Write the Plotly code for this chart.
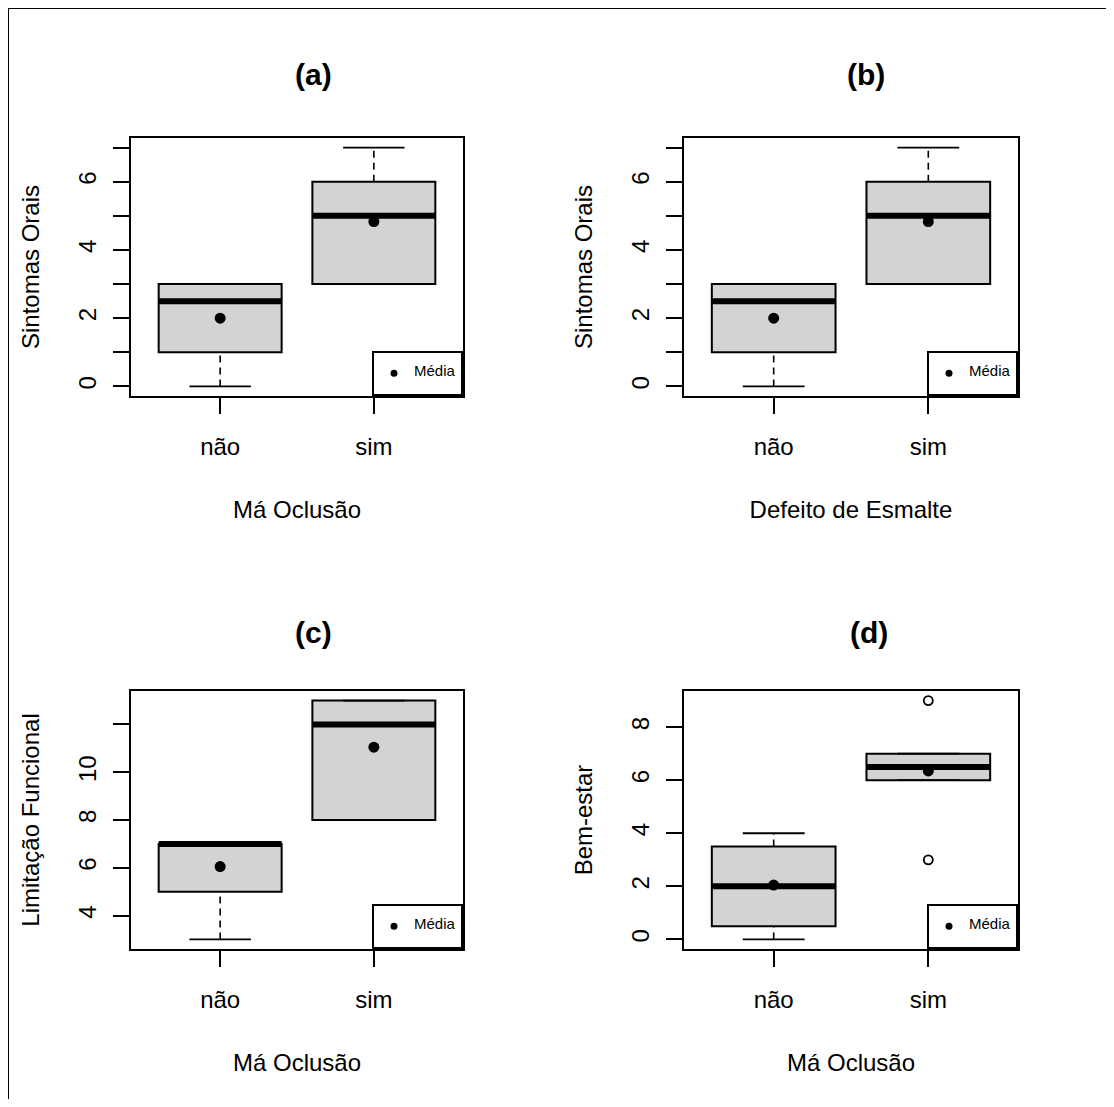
import plotly.graph_objects as go

# ---------------- data ----------------
categories = ["não", "sim"]

# panel (a): Sintomas Orais x Má Oclusão
a_q1 = [1, 3]
a_median = [2.5, 5]
a_q3 = [3, 6]
a_lower = [0, 3]
a_upper = [3, 7]
a_mean = [2.0, 4.83]
a_out = [[], []]

# panel (b): Sintomas Orais x Defeito de Esmalte
b_q1 = [1, 3]
b_median = [2.5, 5]
b_q3 = [3, 6]
b_lower = [0, 3]
b_upper = [3, 7]
b_mean = [2.0, 4.83]
b_out = [[], []]

# panel (c): Limitação Funcional x Má Oclusão
c_q1 = [5, 8]
c_median = [7, 12]
c_q3 = [7, 13]
c_lower = [3, 8]
c_upper = [7, 13]
c_mean = [6.05, 11.05]
c_out = [[], []]

# panel (d): Bem-estar x Má Oclusão
d_q1 = [0.5, 6]
d_median = [2, 6.5]
d_q3 = [3.5, 7]
d_lower = [0, 6]
d_upper = [4, 7]
d_mean = [2.05, 6.35]
d_out = [[], [9, 3]]

titles = ["(a)", "(b)", "(c)", "(d)"]
x_titles = ["Má Oclusão", "Defeito de Esmalte", "Má Oclusão", "Má Oclusão"]
y_titles = ["Sintomas Orais", "Sintomas Orais", "Limitação Funcional", "Bem-estar"]
y_tickvals = [list(range(0, 8)), list(range(0, 8)), [4, 6, 8, 10, 12], [0, 2, 4, 6, 8]]
y_ticktext = [["0", "", "2", "", "4", "", "6", ""],
              ["0", "", "2", "", "4", "", "6", ""],
              ["4", "6", "8", "10", ""],
              ["0", "2", "4", "6", "8"]]
y_ranges = [[-0.28, 7.28], [-0.28, 7.28], [2.6, 13.4], [-0.36, 9.36]]
legend_label = "Média"

panels = [
    (a_q1, a_median, a_q3, a_lower, a_upper, a_mean, a_out),
    (b_q1, b_median, b_q3, b_lower, b_upper, b_mean, b_out),
    (c_q1, c_median, c_q3, c_lower, c_upper, c_mean, c_out),
    (d_q1, d_median, d_q3, d_lower, d_upper, d_mean, d_out),
]

# ---------------- layout geometry ----------------
OFF = 8                      # default page body margin
W, H = 1114 - 2 * OFF, 1107 - 2 * OFF
FONT = "Liberation Sans, Arial, sans-serif"
BOX_W = 0.8
STAPLE_W = 0.4


def px(v):
    return (v - OFF) / W


def py(v):
    return 1 - (v - OFF) / H


x_doms = [[px(131), px(463)], [px(684), px(1018)], [px(131), px(463)], [px(684), px(1018)]]
y_doms = [[py(396), py(138)], [py(396), py(138)], [py(949), py(691)], [py(949), py(691)]]
title_pos = [(px(313), py(74)), (px(866), py(74)), (px(313), py(632)), (px(869), py(632))]

fig = go.Figure()
layout = dict(
    width=W, height=H,
    margin=dict(l=0, r=0, t=0, b=0),
    paper_bgcolor="white", plot_bgcolor="white",
    font=dict(family=FONT, color="black", size=24),
    showlegend=True,
    annotations=[], shapes=[],
)

xpos = [1, 2]
for k, (q1, med, q3, lo, up, mn, out) in enumerate(panels):
    n = "" if k == 0 else str(k + 1)
    xa, ya = "x" + n, "y" + n
    leg = "legend" + n

    # box body
    fig.add_trace(go.Box(
        x=xpos, q1=q1, median=med, q3=q3, lowerfence=q1, upperfence=q3,
        width=BOX_W, whiskerwidth=0, fillcolor="#d3d3d3",
        line=dict(color="black", width=2), boxpoints=False,
        xaxis=xa, yaxis=ya, showlegend=False, hoverinfo="skip",
    ))
    # thick median line
    mx, my = [], []
    for i, xv in enumerate(xpos):
        mx += [xv - BOX_W / 2, xv + BOX_W / 2, None]
        my += [med[i], med[i], None]
    fig.add_trace(go.Scatter(x=mx, y=my, mode="lines", line=dict(color="black", width=6),
                             xaxis=xa, yaxis=ya, showlegend=False, hoverinfo="skip"))
    # dashed whiskers
    wx, wy = [], []
    for i, xv in enumerate(xpos):
        if lo[i] < q1[i]:
            wx += [xv, xv, None]
            wy += [lo[i], q1[i], None]
        if up[i] > q3[i]:
            wx += [xv, xv, None]
            wy += [q3[i], up[i], None]
    fig.add_trace(go.Scatter(x=wx, y=wy, mode="lines",
                             line=dict(color="black", width=1.6, dash="7px,5px"),
                             xaxis=xa, yaxis=ya, showlegend=False, hoverinfo="skip"))
    # staples
    sx, sy = [], []
    for i, xv in enumerate(xpos):
        for v in (lo[i], up[i]):
            sx += [xv - STAPLE_W / 2, xv + STAPLE_W / 2, None]
            sy += [v, v, None]
    fig.add_trace(go.Scatter(x=sx, y=sy, mode="lines", line=dict(color="black", width=1.8),
                             xaxis=xa, yaxis=ya, showlegend=False, hoverinfo="skip"))
    # outliers
    ox, oy = [], []
    for i, xv in enumerate(xpos):
        for v in out[i]:
            ox.append(xv)
            oy.append(v)
    if ox:
        fig.add_trace(go.Scatter(x=ox, y=oy, mode="markers",
                                 marker=dict(symbol="circle-open", size=9, color="black",
                                             line=dict(width=1.8, color="black")),
                                 xaxis=xa, yaxis=ya, showlegend=False, hoverinfo="skip"))
    # means
    fig.add_trace(go.Scatter(x=xpos, y=mn, mode="markers",
                             marker=dict(symbol="circle", size=11, color="black"),
                             xaxis=xa, yaxis=ya, showlegend=False))
    # legend-only entry
    fig.add_trace(go.Scatter(x=[None], y=[None], mode="markers",
                             marker=dict(symbol="circle", size=7, color="black"),
                             name="&nbsp;<br><span style='font-size:15px'>" + legend_label + "</span><br>&nbsp;",
                             xaxis=xa, yaxis=ya, showlegend=True, legend=leg))

    layout["xaxis" + n] = dict(
        domain=x_doms[k], anchor=ya, range=[0.42, 2.58],
        tickmode="array", tickvals=xpos, ticktext=categories,
        ticks="outside", ticklen=16, tickwidth=2, tickcolor="black",
        ticklabelstandoff=12,
        showline=True, linecolor="black", linewidth=2, mirror=True,
        showgrid=False, zeroline=False,
        tickfont=dict(size=24, family=FONT),
        title=dict(text=x_titles[k], font=dict(size=24, family=FONT), standoff=42),
    )
    layout["yaxis" + n] = dict(
        domain=y_doms[k], anchor=xa, range=y_ranges[k],
        tickmode="array", tickvals=y_tickvals[k], ticktext=y_ticktext[k],
        ticks="outside", ticklen=16, tickwidth=2, tickcolor="black", tickangle=-90,
        ticklabelstandoff=7,
        showline=True, linecolor="black", linewidth=2, mirror=True,
        showgrid=False, zeroline=False,
        tickfont=dict(size=24, family=FONT),
        title=dict(text=y_titles[k], font=dict(size=24, family=FONT), standoff=28),
    )
    layout[leg] = dict(
        x=x_doms[k][1], y=y_doms[k][0], xanchor="right", yanchor="bottom",
        xref="paper", yref="paper",
        bgcolor="white", bordercolor="black", borderwidth=2,
        font=dict(size=7, family=FONT), itemwidth=30,
    )
    layout["annotations"].append(dict(
        text="<b>" + titles[k] + "</b>", x=title_pos[k][0], y=title_pos[k][1],
        xref="paper", yref="paper", showarrow=False,
        font=dict(size=30, family=FONT, color="black"),
        xanchor="center", yanchor="middle",
    ))

# outer frame (only left and top edges visible in the reference)
layout["shapes"].append(dict(type="rect", xref="paper", yref="paper",
                             x0=px(8), x1=1.02, y0=-0.02, y1=1,
                             line=dict(color="black", width=2), layer="below"))

fig.update_layout(**layout)
fig.write_html("out.html")
